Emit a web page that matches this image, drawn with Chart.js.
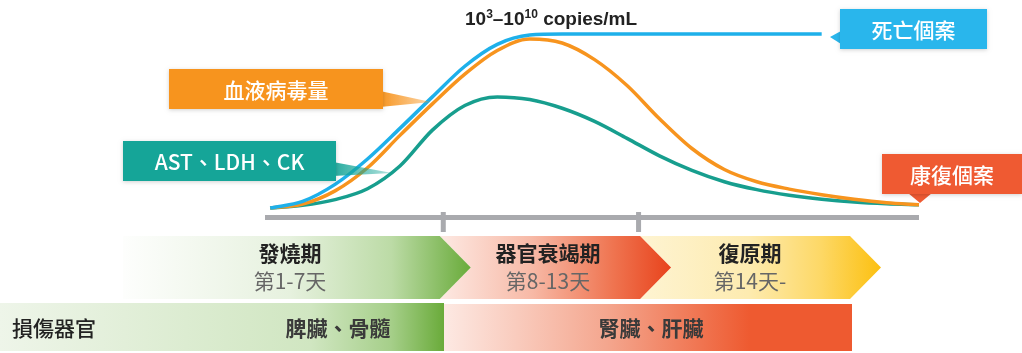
<!DOCTYPE html>
<html>
<head>
<meta charset="utf-8">
<script src="https://cdn.jsdelivr.net/npm/chart.js@4"></script>
<style>
  body { margin: 0; background: #fff; }
  canvas { display: block; }
</style>
</head>
<body>
<canvas id="myChart" width="1022" height="353"></canvas>
<script>
// timeline position (0-100) and relative level of each curve
const positions = [0, 5, 10, 15, 20, 25, 30, 35, 40, 45, 50, 55, 60, 65, 70, 75, 80, 85, 90, 95, 100];
const deathCase = [0, 3.8, 13.5, 28, 45.5, 63.5, 81, 93.5, 98.8, 99.4, 99.4, 99.4, 99.4, 99.4, 99.4, 99.4, 99.4, 99.4, null, null, null];
const viralLoad = [0, 2.2, 9.8, 23, 41.5, 59.5, 76.5, 90, 96.6, 94.3, 84.8, 70, 51, 34, 22, 15, 10.8, 7.6, 5, 3, 1.8];
const enzymes = [0, 1.5, 4.8, 11, 24, 44.5, 58.6, 63.5, 62, 57, 49.5, 39.8, 29.8, 21.5, 15, 10.5, 7.3, 5, 3.4, 2.4, 1.8];
const phaseTicks = [26.6, 56.7];

const seriesNames = ["死亡個案", "血液病毒量", "AST、LDH、CK", "康復個案"];
const phaseNames = ["發燒期", "器官衰竭期", "復原期"];
const phaseDays = ["第1-7天", "第8-13天", "第14天-"];
const organTitle = "損傷器官";
const organs = ["脾臟、骨髓", "腎臟、肝臟"];

const CJK = "'Noto Sans CJK TC', 'Noto Sans', sans-serif";

function points(arr) {
  return positions.map((x, i) => ({ x: x, y: arr[i] })).filter(p => p.y !== null);
}

function grad(ctx, x0, x1, stops) {
  var g = ctx.createLinearGradient(x0, 0, x1, 0);
  stops.forEach(s => g.addColorStop(s[0], s[1]));
  return g;
}

function labelBox(ctx, x, y, w, h, color, text) {
  ctx.save();
  ctx.shadowColor = "rgba(0,0,0,0.18)";
  ctx.shadowBlur = 4;
  ctx.shadowOffsetY = 1;
  ctx.fillStyle = color;
  ctx.fillRect(x, y, w, h);
  ctx.restore();
  ctx.fillStyle = "#fff";
  ctx.font = "500 21px " + CJK;
  ctx.textAlign = "center";
  ctx.textBaseline = "middle";
  ctx.fillText(text, x + w / 2, y + h / 2 + 1);
}

const decorations = {
  id: "decorations",
  beforeDatasetsDraw(chart) {
    const ctx = chart.ctx;
    const xs = chart.scales.x;
    const area = chart.chartArea;
    ctx.save();

    // time axis
    ctx.fillStyle = "#a9aaae";
    ctx.fillRect(area.left, 215, area.right - area.left, 5);
    phaseTicks.forEach(t => {
      const px = xs.getPixelForValue(t);
      ctx.fillRect(px - 2, 212, 5, 20);
    });

    // phase chevrons
    const t1 = xs.getPixelForValue(phaseTicks[0]) - 3;
    const t2 = xs.getPixelForValue(phaseTicks[1]) + 2;
    const t3 = 850, tip = 31, top = 236, bot = 299, mid = (top + bot) / 2;

    function chevron(x0, x1, notch, fill) {
      ctx.beginPath();
      ctx.moveTo(x0, top);
      ctx.lineTo(x1, top);
      ctx.lineTo(x1 + tip, mid);
      ctx.lineTo(x1, bot);
      ctx.lineTo(x0, bot);
      if (notch) ctx.lineTo(x0 + tip, mid);
      ctx.closePath();
      ctx.fillStyle = fill;
      ctx.fill();
    }
    chevron(t2, t3, true, grad(ctx, t2, t3 + tip, [[0, "#fef4d2"], [0.45, "#fdebb0"], [0.75, "#fdd866"], [1, "#fcc010"]]));
    chevron(t1, t2, true, grad(ctx, t1, t2 + tip, [[0, "#fde9e3"], [0.4, "#f7b9a6"], [0.75, "#ef7450"], [1, "#e8431c"]]));
    chevron(123, t1, false, grad(ctx, 110, t1 + tip, [[0, "#ffffff"], [0.5, "#e6f1de"], [0.78, "#bcdba6"], [1, "#69ab3a"]]));

    // organ bars
    ctx.fillStyle = grad(ctx, 0, 444, [[0, "#eef5e9"], [0.7, "#d0e6c1"], [0.88, "#a6cf8a"], [1, "#6aab3a"]]);
    ctx.fillRect(0, 303, 444, 48);
    ctx.fillStyle = grad(ctx, 444, 852, [[0, "#fde9e3"], [0.4, "#f4a68e"], [0.75, "#ee5a30"], [1, "#ee5a30"]]);
    ctx.fillRect(444, 304, 408, 47);

    // phase text
    const centers = [290, 548, 750];
    ctx.textAlign = "center";
    ctx.textBaseline = "middle";
    phaseNames.forEach((n, i) => {
      ctx.fillStyle = "#222";
      ctx.font = "bold 21px " + CJK;
      ctx.fillText(n, centers[i], 253);
      ctx.fillStyle = "#666";
      ctx.font = "21px " + CJK;
      ctx.fillText(phaseDays[i], centers[i], 281);
    });

    ctx.fillStyle = "#222";
    ctx.font = "500 21px " + CJK;
    ctx.textAlign = "left";
    ctx.fillText(organTitle, 12, 328);
    ctx.fillStyle = "#3a3a3a";
    ctx.textAlign = "center";
    ctx.font = "bold 21px " + CJK;
    ctx.fillText(organs[0], 338, 328);
    ctx.fillText(organs[1], 651, 328);
    ctx.restore();
  },
  afterDatasetsDraw(chart) {
    const ctx = chart.ctx;
    ctx.save();

    // wedges pointing at the curves
    ctx.fillStyle = grad(ctx, 383, 432, [[0, "rgba(247,148,30,0.95)"], [1, "rgba(247,148,30,0.35)"]]);
    ctx.beginPath();
    ctx.moveTo(380, 91); ctx.lineTo(431, 102); ctx.lineTo(380, 107); ctx.closePath(); ctx.fill();
    ctx.fillStyle = grad(ctx, 336, 393, [[0, "rgba(21,165,152,0.9)"], [1, "rgba(21,165,152,0.3)"]]);
    ctx.beginPath();
    ctx.moveTo(333, 162); ctx.lineTo(392, 173); ctx.lineTo(333, 176); ctx.closePath(); ctx.fill();

    // pointers
    ctx.fillStyle = "#29b6ec";
    ctx.beginPath();
    ctx.moveTo(841, 31); ctx.lineTo(830, 37); ctx.lineTo(841, 44); ctx.closePath(); ctx.fill();
    ctx.fillStyle = "#ef5a32";
    ctx.beginPath();
    ctx.moveTo(908, 193); ctx.lineTo(920, 203); ctx.lineTo(932, 193); ctx.closePath(); ctx.fill();

    labelBox(ctx, 840, 9, 147, 40, "#29b6ec", seriesNames[0]);
    labelBox(ctx, 169, 69, 214, 40, "#f7941e", seriesNames[1]);
    labelBox(ctx, 123, 141, 213, 40, "#15a598", seriesNames[2]);
    labelBox(ctx, 882, 154, 140, 40, "#ef5a32", seriesNames[3]);

    // copies/mL heading with superscripts
    ctx.fillStyle = "#222";
    ctx.textAlign = "left";
    ctx.textBaseline = "alphabetic";
    let x = 465;
    const parts = [["10", 19, 0], ["3", 12, -7], ["–10", 19, 0], ["10", 12, -7], [" copies/mL", 19, 0]];
    parts.forEach(p => {
      ctx.font = "bold " + p[1] + "px 'Liberation Sans', Arial, sans-serif";
      ctx.fillText(p[0], x, 25 + p[2]);
      x += ctx.measureText(p[0]).width;
    });
    ctx.restore();
  }
};

const ctx = document.getElementById("myChart").getContext("2d");
const myChart = new Chart(ctx, {
  type: "line",
  data: {
    datasets: [
      { label: seriesNames[0], data: points(deathCase), borderColor: "#1eb0ea" },
      { label: seriesNames[1], data: points(viralLoad), borderColor: "#f7941e" },
      { label: seriesNames[2], data: points(enzymes), borderColor: "#179e8e" }
    ]
  },
  options: {
    responsive: false,
    animation: false,
    layout: { padding: { left: 265, right: 103, top: 33, bottom: 145 } },
    elements: {
      line: { borderWidth: 3.5, cubicInterpolationMode: "monotone", fill: false },
      point: { radius: 0 }
    },
    datasets: { line: { clip: false } },
    scales: {
      x: { type: "linear", min: -0.8, max: 100, display: false },
      y: { min: 0, max: 100, display: false }
    },
    plugins: { legend: { display: false }, tooltip: { enabled: false } }
  },
  plugins: [decorations]
});
</script>
</body>
</html>
